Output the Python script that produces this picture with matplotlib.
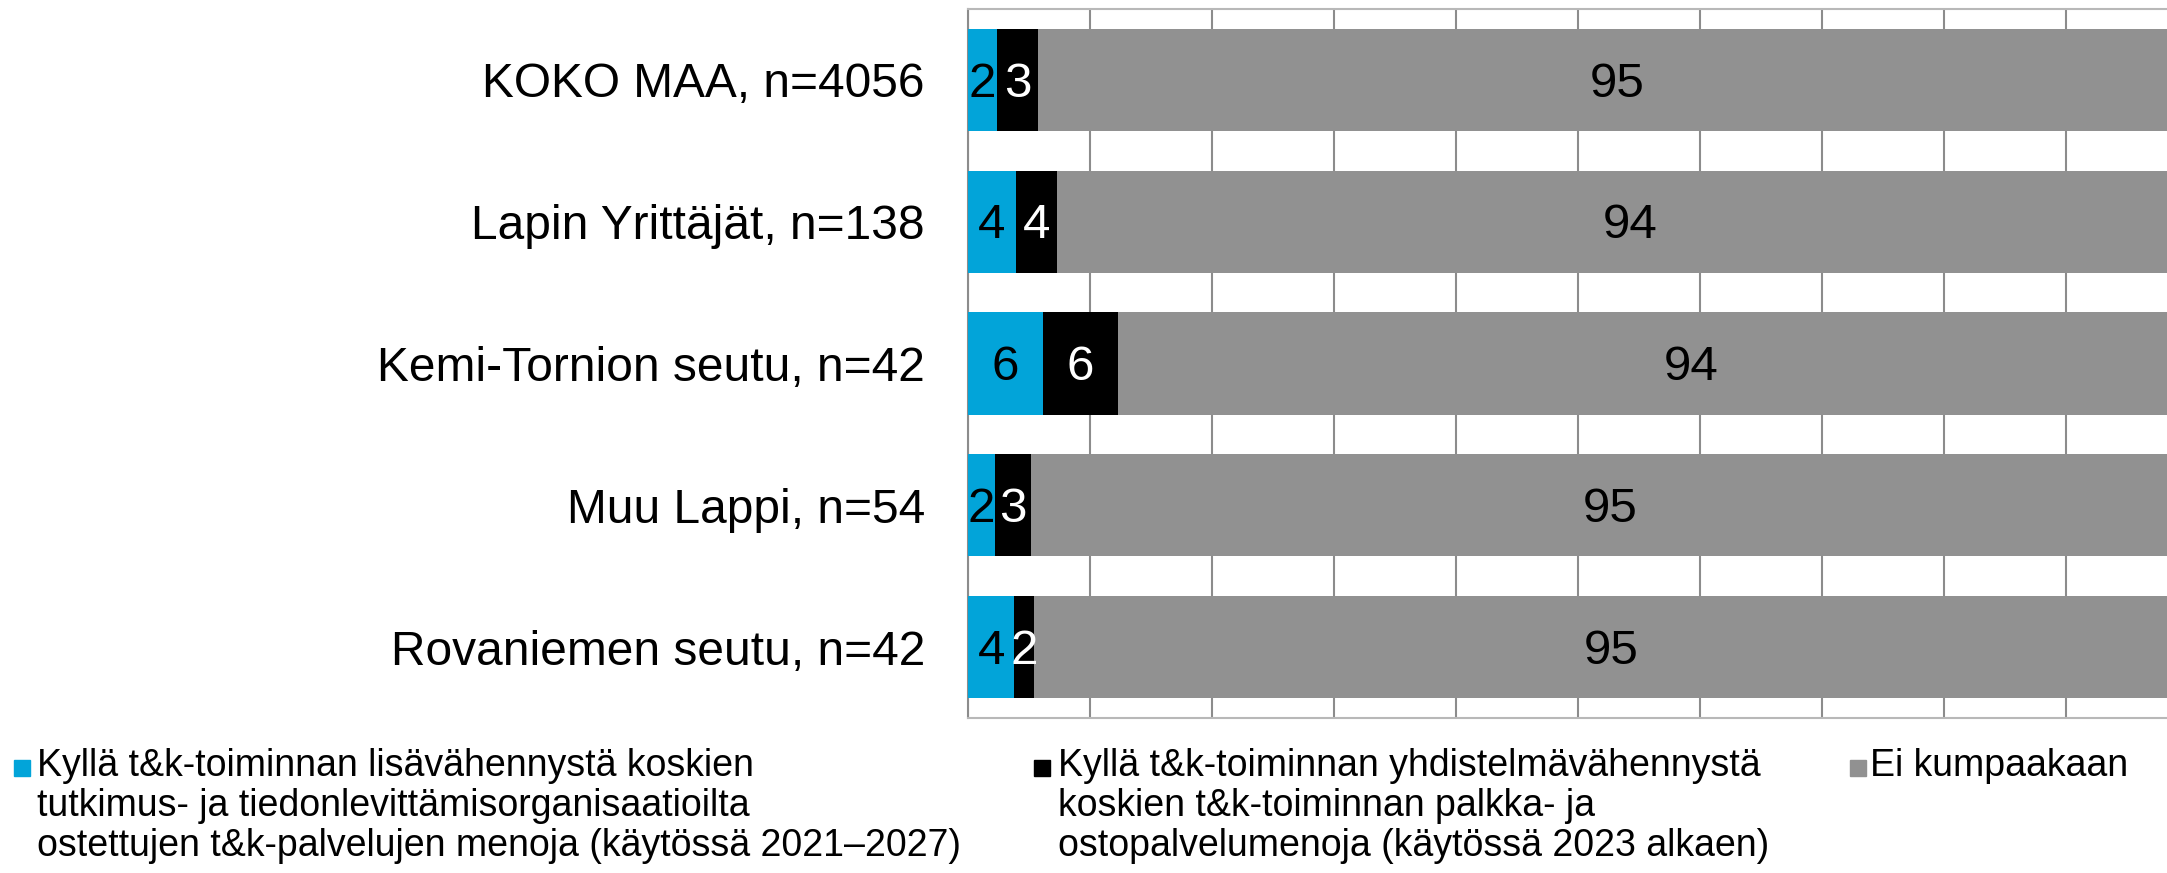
import matplotlib
matplotlib.use("Agg")
import matplotlib.pyplot as plt
from matplotlib.patches import Rectangle

plt.rcParams['font.family'] = ['Liberation Sans', 'DejaVu Sans']

categories = ["KOKO MAA, n=4056", "Lapin Yrittäjät, n=138", "Kemi-Tornion seutu, n=42",
              "Muu Lappi, n=54", "Rovaniemen seutu, n=42"]
lisavahennys = [2.4, 3.9, 6.15, 2.2, 3.8]
yhdistelma = [3.3, 3.4, 6.15, 2.95, 1.6]
ei_kumpaakaan = [95, 94, 94, 95, 94.6]
labels_lisa = ["2", "4", "6", "2", "4"]
labels_yhd = ["3", "4", "6", "3", "2"]
labels_ei = ["95", "94", "94", "95", "95"]

series_names = [
    "Kyllä t&k-toiminnan lisävähennystä koskien\ntutkimus- ja tiedonlevittämisorganisaatioilta\nostettujen t&k-palvelujen menoja (käytössä 2021–2027)",
    "Kyllä t&k-toiminnan yhdistelmävähennystä\nkoskien t&k-toiminnan palkka- ja\nostopalvelumenoja (käytössä 2023 alkaen)",
    "Ei kumpaakaan",
]
colors = ["#02A4D9", "#000000", "#919191"]
text_colors = ["black", "white", "black"]

W, H = 2167, 873
fig = plt.figure(figsize=(W / 100, H / 100), dpi=100)
ax = fig.add_axes([968 / W, (H - 718) / H, 1220 / W, 709 / H])

y = list(range(len(categories)))
left = [0] * len(categories)
for vals, labs, col, tcol in zip([lisavahennys, yhdistelma, ei_kumpaakaan],
                                 [labels_lisa, labels_yhd, labels_ei], colors, text_colors):
    bars = ax.barh(y, vals, left=left, height=0.72, color=col, zorder=3)
    for rect, lab in zip(bars, labs):
        cx = rect.get_x() + rect.get_width() / 2
        cy = rect.get_y() + rect.get_height() / 2
        ax.annotate(lab, (cx, cy), xytext=(0, -3), textcoords='offset points',
                    ha='center', va='center', color=tcol, fontsize=35.5, zorder=4)
    left = [l + v for l, v in zip(left, vals)]

ax.set_xlim(0, 100)
ax.set_ylim(4.5, -0.5)
ax.set_xticks(range(0, 101, 10))
ax.set_xticklabels([])
ax.tick_params(axis='x', length=0)
ax.tick_params(axis='y', length=0, pad=31, labelsize=34.5)
ax.set_yticks(y)
ax.set_yticklabels(categories)
ax.grid(axis='x', color='#8c8c8c', linewidth=1.5, zorder=0)
ax.set_axisbelow(True)
for s in ['top', 'bottom']:
    ax.spines[s].set_color('#b8b8b8')
    ax.spines[s].set_linewidth(1.5)
ax.spines['left'].set_color('#8c8c8c')
ax.spines['left'].set_linewidth(1.5)
ax.spines['right'].set_visible(False)

# legend (manual layout)
marker_x = [14, 1034, 1850]
text_x = [37, 1058, 1870]
line_top = 748
for mx, tx, col, name in zip(marker_x, text_x, colors, series_names):
    fig.add_artist(Rectangle((mx / W, (H - 776) / H), 16 / W, 16 / H,
                             transform=fig.transFigure, color=col))
    fig.text(tx / W, (H - line_top) / H, name, fontsize=27, va='top', ha='left',
             linespacing=1.14)

fig.savefig("out.png", dpi=100)
